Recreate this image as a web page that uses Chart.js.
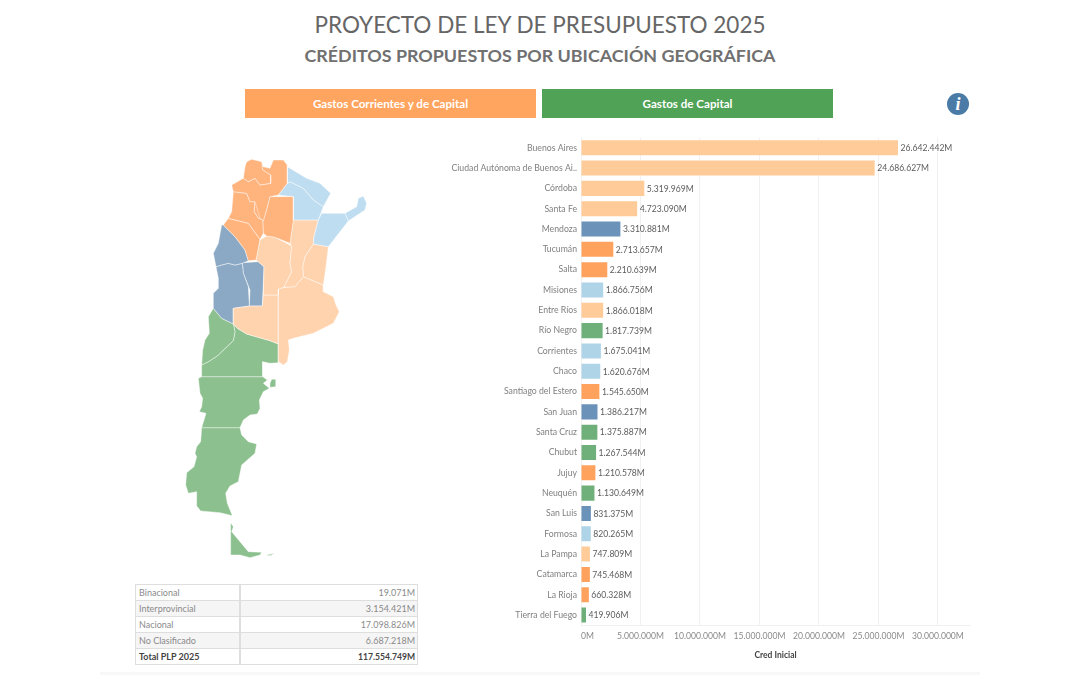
<!DOCTYPE html>
<html>
<head>
<meta charset="utf-8">
<script src="https://cdn.jsdelivr.net/npm/chart.js@4"></script>
<style>
  html, body { margin: 0; padding: 0; background: #fff; }
  body { width: 1080px; height: 675px; position: relative; overflow: hidden; font-family: Lato, sans-serif; }
  h1, h2 { position: absolute; left: 0; width: 1080px; margin: 0; text-align: center; color: #666; }
  h1 { top: 10px; font-size: 22.5px; line-height: 30px; font-weight: 400; }
  h2 { top: 42px; font-size: 17.9px; line-height: 26px; font-weight: 700; color: #707070; }
  .btn { position: absolute; top: 89px; width: 291px; height: 29px; line-height: 29px; text-align: center;
         color: #fff; font-size: 11.6px; font-weight: 700; }
  #info { position: absolute; left: 947px; top: 93px; width: 22px; height: 22px; border-radius: 50%;
          background: #4a7ba7; color: #fff; text-align: center; line-height: 22px;
          font: italic 700 18px/22px "Liberation Serif", serif; }
  #tbl { position: absolute; left: 135px; top: 584px; width: 283px; border-collapse: collapse; table-layout: fixed;
         font-size: 9px; color: #8a8a8a; }
  #tbl td { border: 1px solid #dedede; height: 15px; padding: 0 2px 0 3px; line-height: 14px; }
  #tbl td:first-child { width: 98px; border-right: 2px solid #dedede; }
  #tbl td:last-child { text-align: right; }
  #tbl tr:nth-child(even) { background: #f5f5f5; }
  #tbl tr.total { color: #444; font-weight: 700; }
  #tbl tr.total td:last-child { font-size: 8.6px; }
  #foot { position: absolute; left: 100px; top: 672px; width: 880px; height: 3px; background: #f8f8f8; }
  canvas { position: absolute; }
</style>
</head>
<body>
<h1>PROYECTO DE LEY DE PRESUPUESTO 2025</h1>
<h2>CRÉDITOS PROPUESTOS POR UBICACIÓN GEOGRÁFICA</h2>
<div class="btn" style="left:245px;background:#ffa55f">Gastos Corrientes y de Capital</div>
<div class="btn" style="left:542px;background:#50a257">Gastos de Capital</div>
<div id="info">i</div>
<canvas id="map" width="200" height="415" style="left:180px;top:150px"></canvas>
<canvas id="bars" width="530" height="540" style="left:440px;top:130px"></canvas>
<table id="tbl"></table>
<div id="foot"></div>

<script>
// Bars
const provinces = ['Buenos Aires', 'Ciudad Autónoma de Buenos Ai..', 'Córdoba', 'Santa Fe', 'Mendoza', 'Tucumán',
  'Salta', 'Misiones', 'Entre Ríos', 'Río Negro', 'Corrientes', 'Chaco', 'Santiago del Estero', 'San Juan',
  'Santa Cruz', 'Chubut', 'Jujuy', 'Neuquén', 'San Luis', 'Formosa', 'La Pampa', 'Catamarca', 'La Rioja',
  'Tierra del Fuego'];
const credits = [26642442, 24686627, 5319969, 4723090, 3310881, 2713657, 2210639, 1866756, 1866018, 1817739,
  1675041, 1620676, 1545650, 1386217, 1375887, 1267544, 1210578, 1130649, 831375, 820265, 747809, 745468,
  660328, 419906];
const regions = ['pampa', 'pampa', 'pampa', 'pampa', 'cuyo', 'noa', 'noa', 'nea', 'pampa', 'sur', 'nea', 'nea',
  'noa', 'cuyo', 'sur', 'sur', 'noa', 'sur', 'cuyo', 'nea', 'pampa', 'noa', 'noa', 'sur'];
const xTicks = [0, 5000000, 10000000, 15000000, 20000000, 25000000, 30000000];
const xMax = 32700000;
const barColors = { pampa: '#ffcb99', cuyo: '#6b92b8', noa: '#ffa25e', nea: '#afd4e8', sur: '#6fb07a' };
const mapColors = { pampa: '#ffd3ae', cuyo: '#8ba9c4', noa: '#ffb37d', nea: '#bfddf0', sur: '#8cc08e' };

// Summary table
const tableRows = ['Binacional', 'Interprovincial', 'Nacional', 'No Clasificado', 'Total PLP 2025'];
const tableValues = ['19.071M', '3.154.421M', '17.098.826M', '6.687.218M', '117.554.749M'];

// Map outlines, x/y in map units
const jujuy = [[200,35],[215,28],[245,35],[248,60],[272,75],[272,100],[240,105],[225,85],[205,95],[190,85],[195,50]];
const salta = [[245,35],[250,50],[270,55],[280,30],[310,30],[322,45],[322,100],[295,135],[270,140],[258,185],[250,212],[240,205],[225,155],[210,155],[200,130],[160,125],[155,105],[190,85],[205,95],[225,85],[240,105],[272,100],[272,75],[248,60]];
const catamarca = [[160,125],[200,130],[210,155],[225,155],[222,185],[235,205],[248,210],[250,250],[240,268],[205,220],[145,205],[155,185]];
const tucuman = [[225,155],[258,155],[262,170],[250,212],[235,205],[222,185]];
const laRioja = [[145,205],[205,220],[240,268],[228,330],[205,332],[195,300],[165,260],[130,225]];
const santiago = [[270,140],[340,140],[340,210],[330,280],[285,262],[260,258],[250,250],[248,210],[258,185]];
const formosa = [[322,50],[380,85],[420,100],[452,130],[430,170],[400,150],[370,115],[330,95],[322,100]];
const chaco = [[322,100],[330,95],[370,115],[400,150],[430,170],[415,210],[340,210],[340,140],[295,135]];
const corrientes = [[425,190],[495,190],[505,213],[445,290],[400,282],[402,260],[415,210]];
const misiones = [[495,190],[530,170],[535,145],[550,138],[560,160],[555,180],[505,213]];
const santaFe = [[340,210],[415,210],[402,260],[400,282],[375,320],[368,350],[370,380],[345,410],[312,412],[335,365],[330,340],[335,290],[330,280]];
const entreRios = [[400,282],[445,290],[438,350],[430,405],[370,380],[368,350],[375,320]];
const cordoba = [[260,258],[285,262],[330,285],[335,290],[330,340],[335,365],[312,412],[295,417],[295,435],[250,435],[252,350],[228,330],[240,270]];
const buenosAires = [[295,417],[312,412],[345,410],[370,380],[430,405],[430,425],[460,440],[468,465],[478,485],[460,520],[400,550],[340,565],[325,570],[328,600],[322,635],[310,645],[296,635]];
const laPampa = [[160,475],[210,468],[247,468],[250,435],[295,435],[295,582],[270,572],[200,552],[172,535],[160,522]];
const sanJuan = [[125,225],[130,225],[165,260],[195,300],[205,332],[187,340],[165,345],[145,340],[125,345],[108,350],[100,310],[115,280]];
const mendoza = [[108,350],[125,345],[145,340],[165,345],[187,340],[190,370],[205,410],[208,468],[160,475],[160,522],[125,505],[100,475],[100,430],[115,415],[115,385]];
const sanLuis = [[187,338],[235,335],[252,350],[247,468],[208,468],[210,420],[190,370]];
const neuquen = [[100,475],[125,505],[160,522],[165,545],[160,572],[130,600],[112,618],[85,635],[65,645],[68,600],[75,570],[88,550],[85,500]];
const rioNegro = [[160,522],[172,535],[200,552],[270,572],[295,582],[295,638],[270,640],[248,635],[248,680],[65,680],[65,645],[85,635],[112,618],[130,600],[160,572],[165,545]];
const chubut = [[55,685],[60,730],[68,745],[65,770],[58,785],[78,790],[72,810],[65,833],[180,833],[190,810],[210,795],[232,792],[240,775],[238,750],[250,725],[268,715],[250,700],[262,690],[248,680],[65,680]];
const valdes = [[275,688],[288,688],[288,710],[272,712],[270,700]];
const santaCruz = [[65,833],[180,833],[185,855],[205,875],[230,882],[225,910],[185,945],[175,995],[150,1008],[137,1030],[142,1060],[157,1097],[120,1088],[62,1083],[48,1065],[50,1025],[25,1030],[17,1005],[20,968],[42,950],[50,920],[45,910],[50,890],[62,875]];
const tierraFuego = [[152,1118],[160,1130],[155,1145],[180,1175],[205,1205],[245,1207],[240,1215],[210,1223],[180,1215],[152,1215]];
const islet = [[258,1215],[285,1210],[270,1217]];

const mapShapes = [
  [jujuy, 'noa'], [salta, 'noa'], [catamarca, 'noa'], [tucuman, 'noa'], [laRioja, 'noa'], [santiago, 'noa'],
  [formosa, 'nea'], [chaco, 'nea'], [corrientes, 'nea'], [misiones, 'nea'],
  [santaFe, 'pampa'], [entreRios, 'pampa'], [cordoba, 'pampa'], [buenosAires, 'pampa'], [laPampa, 'pampa'],
  [sanJuan, 'cuyo'], [mendoza, 'cuyo'], [sanLuis, 'cuyo'],
  [neuquen, 'sur'], [rioNegro, 'sur'], [chubut, 'sur'], [valdes, 'sur'], [santaCruz, 'sur'], [tierraFuego, 'sur'], [islet, 'sur'],
];

const FONT = 'Lato, sans-serif';

new Chart(document.getElementById('map'), {
  type: 'scatter',
  data: {
    datasets: mapShapes.map(([shape, region]) => ({
      data: [...shape, shape[0]].map(([x, y]) => ({ x, y })),
      showLine: true,
      fill: 'shape',
      tension: 0,
      pointRadius: 0,
      borderWidth: 0.8,
      borderColor: 'rgba(255,255,255,0.55)',
      backgroundColor: mapColors[region],
    })),
  },
  options: {
    responsive: false,
    animation: false,
    layout: { padding: 0 },
    plugins: { legend: { display: false }, tooltip: { enabled: false } },
    scales: {
      x: { display: false, min: 0, max: 600 },
      y: { display: false, min: 0, max: 1245, reverse: true },
    },
  },
});

// Value labels at the end of each bar
const barLabels = {
  id: 'barLabels',
  afterDatasetsDraw(chart) {
    const { ctx } = chart;
    ctx.save();
    ctx.font = '8.6px ' + FONT;
    ctx.fillStyle = '#5c5c5c';
    ctx.textAlign = 'left';
    ctx.textBaseline = 'middle';
    chart.getDatasetMeta(0).data.forEach((bar, i) => {
      const txt = credits[i].toLocaleString('de-DE') + 'M';
      ctx.fillText(txt, bar.x + 2.5, bar.y + 0.5);
    });
    ctx.restore();
  },
};

new Chart(document.getElementById('bars'), {
  type: 'bar',
  data: {
    labels: provinces,
    datasets: [{
      data: credits,
      backgroundColor: regions.map(r => barColors[r]),
      categoryPercentage: 1,
      barPercentage: 0.74,
    }],
  },
  options: {
    indexAxis: 'y',
    responsive: false,
    animation: false,
    layout: { padding: { top: 7.6, right: 0, bottom: 0, left: 0 } },
    plugins: { legend: { display: false }, tooltip: { enabled: false } },
    scales: {
      x: {
        min: 0,
        max: xMax,
        // last entry is the empty end of the axis so 'inner' does not right-align 30.000.000M
        afterBuildTicks: s => { s.ticks = [...xTicks, xMax].map(value => ({ value })); },
        afterFit: s => { s.height = 44.8; s.paddingLeft = 0; s.paddingRight = 0; },
        grid: {
          drawTicks: false,
          color: c => (c.tick && c.tick.value === xMax ? 'rgba(0,0,0,0)' : '#f1f1f1'),
        },
        border: { color: '#efefef' },
        ticks: {
          align: 'inner',
          autoSkip: false,
          maxRotation: 0,
          padding: 6,
          color: '#8a8a8a',
          font: { family: FONT, size: 8.6 },
          callback: v => (v === xMax ? '' : v.toLocaleString('de-DE') + 'M'),
        },
        title: {
          display: true,
          text: 'Cred Inicial',
          color: '#444',
          padding: { top: 7, bottom: 10 },
          font: { family: FONT, size: 8.5, weight: '700' },
        },
      },
      y: {
        afterFit: s => { s.width = 141; s.paddingTop = 0; s.paddingBottom = 0; },
        grid: { display: false, drawTicks: false },
        border: { display: false },
        ticks: {
          autoSkip: false,
          padding: 4,
          color: '#808080',
          font: { family: FONT, size: 8.7 },
        },
      },
    },
  },
  plugins: [barLabels],
});

document.getElementById('tbl').innerHTML = tableRows.map((name, i) =>
  `<tr class="${i === tableRows.length - 1 ? 'total' : ''}"><td>${name}</td><td>${tableValues[i]}</td></tr>`
).join('');
</script>
</body>
</html>
